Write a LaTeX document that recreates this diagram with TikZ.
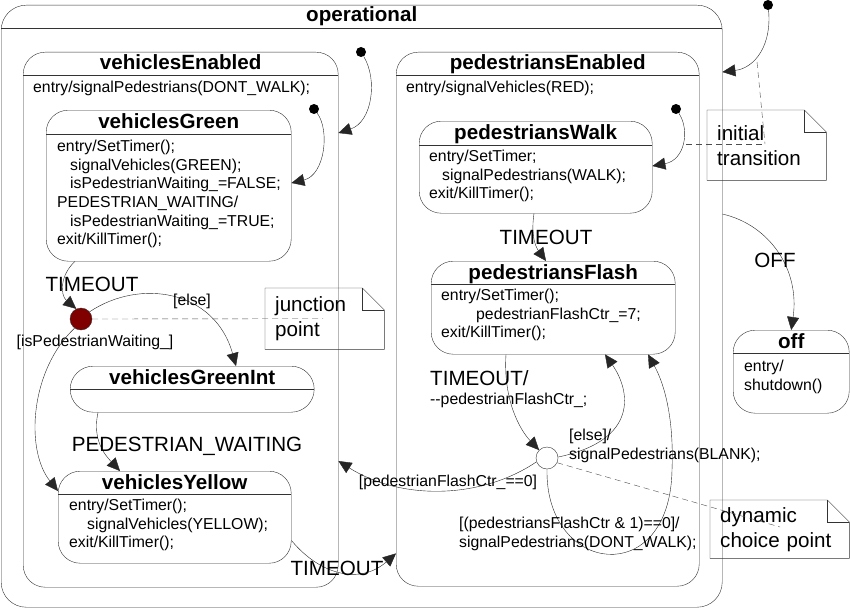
\documentclass[tikz,border=0pt]{standalone}
\usepackage{fontspec}
\setmainfont{Liberation Sans}
\usetikzlibrary{arrows,arrows.meta,positioning,calc,shapes}
\definecolor{junctionred}{RGB}{128,0,0}
\tikzstyle{state} = [draw=black!80, rounded corners=22pt, inner sep=0pt, anchor=north west]
\tikzstyle{divider} = [draw=black!80]
\tikzstyle{title} = [font=\fontsize{20.6}{24}\selectfont\bfseries, anchor=base, inner sep=0pt]
\tikzstyle{body} = [font=\fontsize{15.8}{18.6}\selectfont, align=left, anchor=north west, inner sep=0pt]
\tikzstyle{event} = [font=\fontsize{20.6}{24}\selectfont, inner sep=0pt]
\tikzstyle{guard} = [font=\fontsize{15.8}{18.6}\selectfont, align=left, inner sep=0pt]
\tikzstyle{note} = [font=\fontsize{20.6}{25}\selectfont, align=left, anchor=north west, inner xsep=10pt, inner ysep=0pt]
\tikzstyle{notepen} = [draw=black!80]
\tikzstyle{initdot} = [circle, fill=black, minimum size=10pt, inner sep=0pt]
\tikzstyle{junction} = [circle, draw=black!80, fill=junctionred, minimum size=22pt, inner sep=0pt]
\tikzstyle{choice} = [circle, draw=black!80, fill=white, minimum size=22pt, inner sep=0pt]
\tikzstyle{line} = [draw=black!85, -{Triangle[length=13pt,width=12pt]}]
\tikzstyle{link} = [draw=black!70, dash pattern=on 6pt off 4pt]

\begin{document}
\begin{tikzpicture}[x=1pt, y=-1pt]
	\useasboundingbox (0,0) rectangle (850,610);

	% Outer state
	\node[state, rounded corners=25pt, minimum width=721pt, minimum height=602pt] (operational) at (1,5) {};
	\node[title] (operational-title) at ($(operational.north)+(0,17)$) {operational};
	\draw[divider] ($(operational.north west)+(0,23)$) -- ($(operational.north east)+(0,23)$);

	% Left column
	\node[state, minimum width=315pt, minimum height=535pt] (vehicles-enabled) at (23,52) {};
	\node[title] (vehicles-enabled-title) at ($(vehicles-enabled.north)+(0,17)$) {vehiclesEnabled};
	\draw[divider] ($(vehicles-enabled.north west)+(0,23)$) -- ($(vehicles-enabled.north east)+(0,23)$);
	\node[body] (vehicles-enabled-body) at (33,81) {entry/signalPedestrians(DONT\_WALK);};

	\node[state, minimum width=245pt, minimum height=151pt] (vehicles-green) at (46,110) {};
	\node[title] (vehicles-green-title) at ($(vehicles-green.north)+(0,18)$) {vehiclesGreen};
	\draw[divider] ($(vehicles-green.north west)+(0,24)$) -- ($(vehicles-green.north east)+(0,24)$);
	\node[body] (vehicles-green-body) at (57,140) {entry/SetTimer();\\
		\hspace*{13pt}signalVehicles(GREEN);\\
		\hspace*{13pt}isPedestrianWaiting\_=FALSE;\\
		PEDESTRIAN\_WAITING/\\
		\hspace*{13pt}isPedestrianWaiting\_=TRUE;\\
		exit/KillTimer();};

	\node[state, rounded corners=23pt, minimum width=244pt, minimum height=46pt] (vehicles-green-int) at (70,366) {};
	\node[title] (vehicles-green-int-title) at ($(vehicles-green-int.north)+(0,18)$) {vehiclesGreenInt};
	\draw[divider] ($(vehicles-green-int.north west)+(0,23)$) -- ($(vehicles-green-int.north east)+(0,23)$);

	\node[state, minimum width=233pt, minimum height=92pt] (vehicles-yellow) at (58,471) {};
	\node[title] (vehicles-yellow-title) at ($(vehicles-yellow.north)+(0,18)$) {vehiclesYellow};
	\draw[divider] ($(vehicles-yellow.north west)+(0,23)$) -- ($(vehicles-yellow.north east)+(0,23)$);
	\node[body] (vehicles-yellow-body) at (69,499) {entry/SetTimer();\\
		\hspace*{18pt}signalVehicles(YELLOW);\\
		exit/KillTimer();};

	\node[junction] (junction) at (81,319) {};

	% Right column
	\node[state, minimum width=303pt, minimum height=534pt] (pedestrians-enabled) at (396,52) {};
	\node[title] (pedestrians-enabled-title) at ($(pedestrians-enabled.north)+(0,17)$) {pedestriansEnabled};
	\draw[divider] ($(pedestrians-enabled.north west)+(0,23)$) -- ($(pedestrians-enabled.north east)+(0,23)$);
	\node[body] (pedestrians-enabled-body) at (406,81) {entry/signalVehicles(RED);};

	\node[state, minimum width=233pt, minimum height=92pt] (pedestrians-walk) at (419,121) {};
	\node[title] (pedestrians-walk-title) at ($(pedestrians-walk.north)+(0,18)$) {pedestriansWalk};
	\draw[divider] ($(pedestrians-walk.north west)+(0,24)$) -- ($(pedestrians-walk.north east)+(0,24)$);
	\node[body] (pedestrians-walk-body) at (429,150) {entry/SetTimer;\\
		\hspace*{13pt}signalPedestrians(WALK);\\
		exit/KillTimer();};

	\node[state, minimum width=244pt, minimum height=93pt] (pedestrians-flash) at (431,261) {};
	\node[title] (pedestrians-flash-title) at ($(pedestrians-flash.north)+(0,18)$) {pedestriansFlash};
	\draw[divider] ($(pedestrians-flash.north west)+(0,23)$) -- ($(pedestrians-flash.north east)+(0,23)$);
	\node[body] (pedestrians-flash-body) at (441,289) {entry/SetTimer();\\
		\hspace*{35pt}pedestrianFlashCtr\_=7;\\
		exit/KillTimer();};

	\node[choice] (choice) at (547,458) {};

	% Final state outside
	\node[state, minimum width=116pt, minimum height=83pt] (off) at (733,330) {};
	\node[title] (off-title) at ($(off.north)+(0,18)$) {off};
	\draw[divider] ($(off.north west)+(0,23)$) -- ($(off.north east)+(0,23)$);
	\node[body] (off-body) at (744,360) {entry/\\shutdown()};

	% Initial pseudostates
	\node[initdot] (init-operational) at (768,5) {};
	\node[initdot] (init-vehicles) at (361,52) {};
	\node[initdot] (init-green) at (314,109) {};
	\node[initdot] (init-walk) at (676,109) {};

	% Notes
	\node[note, text width=99pt, minimum height=61pt] (junction-note) at (265,288) {junction\\point};
	\node[note, text width=99pt, minimum height=70pt] (initial-note) at (707,110) {initial\\transition};
	\node[note, text width=119pt, minimum height=58pt] (choice-note) at (710,500) {dynamic\\choice point};
	\draw[notepen] (junction-note.north west) -- ($(junction-note.north east)+(-22,0)$) -- ($(junction-note.north east)+(0,22)$) -- (junction-note.south east) -- (junction-note.south west) -- cycle;
	\draw[notepen] ($(junction-note.north east)+(-22,0)$) -- ++(0,22) -- ++(22,0);
	\draw[notepen] (initial-note.north west) -- ($(initial-note.north east)+(-22,0)$) -- ($(initial-note.north east)+(0,22)$) -- (initial-note.south east) -- (initial-note.south west) -- cycle;
	\draw[notepen] ($(initial-note.north east)+(-22,0)$) -- ++(0,22) -- ++(22,0);
	\draw[notepen] (choice-note.north west) -- ($(choice-note.north east)+(-22,0)$) -- ($(choice-note.north east)+(0,22)$) -- (choice-note.south east) -- (choice-note.south west) -- cycle;
	\draw[notepen] ($(choice-note.north east)+(-22,0)$) -- ++(0,22) -- ++(22,0);

	% Paths
	\path [line] (init-operational) .. controls (772,45) and (755,68) .. ($(operational.north east)+(0,67)$);
	\path [line] (init-vehicles) .. controls (378,80) and (372,122) .. ($(vehicles-enabled.north east)+(0,81)$);
	\path [line] (init-green) .. controls (330,130) and (325,175) .. ($(vehicles-green.north east)+(0,73)$);
	\path [line] (init-walk) .. controls (690,130) and (685,160) .. ($(pedestrians-walk.north east)+(0,45)$);
	\path [line] ($(vehicles-green.south west)+(29,0)$) .. controls (60,275) and (60,295) .. (junction.115);
	\node[event] (green-timeout) at (92,284) {TIMEOUT};
	\path [line] (junction.40) .. controls (140,278) and (215,290) .. ($(vehicles-green-int.north west)+(166,0)$);
	\node[guard] (else-guard) at (192,301) {[else]};
	\path [line] (junction.235) .. controls (30,370) and (25,450) .. ($(vehicles-yellow.north west)+(0,20)$);
	\node[guard] (waiting-guard) at (95,342) {[isPedestrianWaiting\_]};
	\path [line] ($(vehicles-green-int.south west)+(28,0)$) .. controls (92,440) and (105,455) .. ($(vehicles-yellow.north west)+(62,0)$);
	\node[event] (waiting-event) at (187,446) {PEDESTRIAN\_WAITING};
	\path [line] ($(vehicles-yellow.south east)+(0,-23)$) .. controls (320,575) and (360,585) .. ($(pedestrians-enabled.south west)+(0,-33)$);
	\node[event] (yellow-timeout) at (337,568) {TIMEOUT};
	\path [line] ($(pedestrians-walk.south west)+(115,0)$) .. controls (530,240) and (538,250) .. ($(pedestrians-flash.north west)+(115,0)$);
	\node[event] (walk-timeout) at (546,237) {TIMEOUT};
	\path [line] ($(pedestrians-flash.south west)+(75,0)$) .. controls (503,400) and (520,430) .. (choice.135);
	\node[event, anchor=west] (flash-timeout) at (430,378) {TIMEOUT/};
	\node[guard, anchor=west] (flash-timeout-action) at (430,400) {-{}-pedestrianFlashCtr\_;};
	\path [line] (choice.5) .. controls (640,440) and (630,390) .. ($(pedestrians-flash.south west)+(174,0)$);
	\node[guard, anchor=west] (blank-guard) at (569,446) {[else]/\\signalPedestrians(BLANK);};
	\path [line] (choice.south) .. controls (545,575) and (670,590) .. (672,470) .. controls (674,420) and (665,385) .. ($(pedestrians-flash.south west)+(217,0)$);
	\node[guard, anchor=west] (dontwalk-guard) at (459,534) {[(pedestriansFlashCtr \& 1)==0]/\\signalPedestrians(DONT\_WALK);};
	\path [line] (choice.200) .. controls (480,500) and (400,500) .. ($(vehicles-enabled.north east)+(0,409)$);
	\node[guard] (zero-guard) at (448,482) {[pedestrianFlashCtr\_==0]};
	\path [line] ($(operational.north east)+(0,209)$) .. controls (770,225) and (800,270) .. (off.north);
	\node[event] (off-event) at (775,260) {OFF};

	% Note links
	\coordinate (walk-init-mid) at (686,144);
	\coordinate (operational-init-mid) at (757,62);
	\path [link] (junction.east) -- ($(junction-note.west)+(58,0)$);
	\path [link] (walk-init-mid) -- ($(initial-note.north west)+(58,34)$);
	\path [link] (operational-init-mid) -- ($(initial-note.north west)+(58,34)$);
	\path [link] (choice.-25) -- ($(choice-note.north west)+(70,27)$);
\end{tikzpicture}
\end{document}
